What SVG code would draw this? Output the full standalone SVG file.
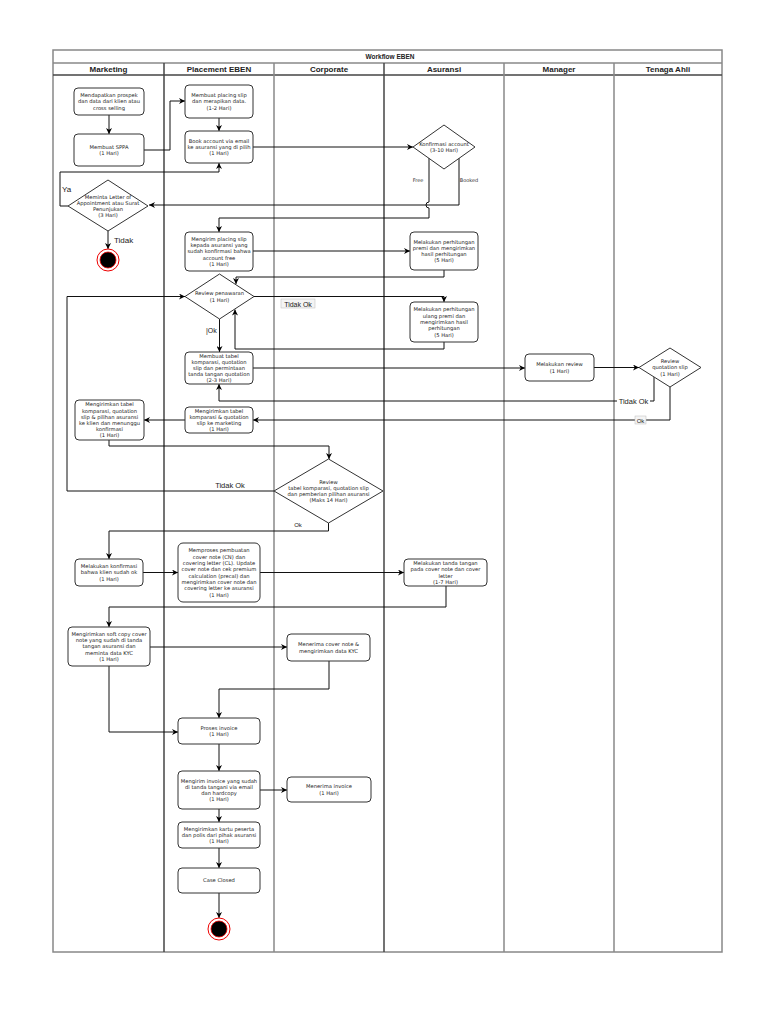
<svg xmlns="http://www.w3.org/2000/svg" width="768" height="1024" viewBox="0 0 768 1024">
<defs>
<marker id="ar" viewBox="0 0 10 10" refX="10" refY="5" markerWidth="6" markerHeight="6" markerUnits="userSpaceOnUse" orient="auto">
<path d="M0,0 L10,5 L0,10 L3,5 z" fill="#000"/>
</marker>
<style>
.node rect{fill:#fff;stroke:#333;stroke-width:1}
.node polygon{fill:#fff;stroke:#333;stroke-width:1}
.t{font-family:"DejaVu Sans",Verdana,sans-serif;font-size:5.2px;fill:#222;text-anchor:middle}
.hd{font-family:"Liberation Sans",Arial,sans-serif;font-size:8px;font-weight:bold;fill:#222;text-anchor:middle}
.lbl{font-family:"Liberation Sans",Arial,sans-serif;font-size:8px;fill:#222}
.sl{font-family:"DejaVu Sans",sans-serif;font-size:5px;fill:#333;text-anchor:middle}
.conn path{fill:none;stroke:#111;stroke-width:1;marker-end:url(#ar)}
.conn path.nm{marker-end:none}
.lane{stroke:#888;stroke-width:1.5}
.laned{stroke:#444;stroke-width:1.5}
</style>
</defs>
<rect x="0" y="0" width="768" height="1024" fill="#fff"/>
<g id="pool">
<rect x="53" y="50" width="669" height="902" fill="none" stroke="#888" stroke-width="1.5"/>
<line x1="53" y1="63" x2="722" y2="63" class="lane"/>
<line x1="53" y1="75" x2="722" y2="75" class="laned"/>
<text x="390" y="58.5" class="hd" style="font-size:6.5px">Workflow EBEN</text>
<line x1="164" y1="63" x2="164" y2="952" class="laned"/>
<line x1="274" y1="63" x2="274" y2="952" class="lane"/>
<line x1="384" y1="63" x2="384" y2="952" class="laned"/>
<line x1="504" y1="63" x2="504" y2="952" class="lane"/>
<line x1="614" y1="63" x2="614" y2="952" class="lane"/>
<text x="108.5" y="72" class="hd">Marketing</text>
<text x="219" y="72" class="hd">Placement EBEN</text>
<text x="329" y="72" class="hd">Corporate</text>
<text x="444" y="72" class="hd">Asuransi</text>
<text x="559" y="72" class="hd">Manager</text>
<text x="668" y="72" class="hd">Tenaga Ahli</text>
</g>
<g class="conn" id="connectors">
<path d="M109,115 V134"/>
<path d="M144,150 H170 V101 H185"/>
<path d="M219,118 V131"/>
<path d="M68,206 H60 V172 H219 V163"/>
<path d="M253,147 H413"/>
<path d="M459,158 V205 H149"/>
<path d="M429,158 V202 A3,3 0 0 0 429,208 V218 H219 V232"/>
<path d="M253,251 H410"/>
<path d="M444,270 V277 H236 V284"/>
<path d="M254,296.5 H444 V302"/>
<path d="M444,342 V349 H235 V309.5"/>
<path d="M219.5,319 V352"/>
<path d="M253,368 H525"/>
<path d="M594,367.5 H639"/>
<path d="M654,377 V401 H219 V384"/>
<path d="M670,387 V420 H253"/>
<path d="M185,420 H144"/>
<path d="M109,440 V446 H329 V459"/>
<path d="M274,491 H67 V296.5 H185"/>
<path d="M328.5,523 V531 H109 V559"/>
<path d="M143,572.5 H178"/>
<path d="M260,572.5 H404"/>
<path d="M446,586 V607 H109 V627"/>
<path d="M150,647 H287"/>
<path d="M329,661 V689 H219 V718"/>
<path d="M109,666 V732 H178"/>
<path d="M219,744 V771"/>
<path d="M260,790 H287"/>
<path d="M219,809 V822"/>
<path d="M219,848 V868"/>
<path d="M219,893 V918"/>
<path d="M108,231 V249"/>
</g>
<g id="labels">
<text x="62" y="192" class="lbl">Ya</text>
<text x="114" y="243" class="lbl">Tidak</text>
<text x="418" y="181.5" class="sl">Free</text>
<text x="469" y="181.5" class="sl">Booked</text>
<rect x="281" y="299" width="34" height="9" fill="#f4f4f4" stroke="#bbb" stroke-width="0.5"/>
<text x="298" y="306.5" class="lbl" style="font-size:7px;text-anchor:middle">Tidak  Ok</text>
<rect x="205" y="326" width="13" height="8" fill="#fff"/>
<text x="206" y="333" class="lbl" style="font-size:7px">|Ok</text>
<rect x="617" y="397" width="33" height="8" fill="#fff"/>
<text x="633.5" y="404" class="lbl" style="font-size:7.5px;text-anchor:middle">Tidak Ok</text>
<rect x="635" y="416" width="11" height="8" fill="#f4f4f4" stroke="#bbb" stroke-width="0.5"/>
<text x="640.5" y="422.5" class="lbl" style="font-size:6px;text-anchor:middle">Ok</text>
<text x="230" y="488" class="lbl" style="font-size:7.5px;text-anchor:middle">Tidak Ok</text>
<text x="298" y="527" class="lbl" style="font-size:6px;text-anchor:middle">Ok</text>
</g>
<g id="n1" class="node"><rect x="74" y="88" width="70" height="27" rx="4"/><text class="t"><tspan x="109" y="97.1">Mendapatkan prospek</tspan><tspan x="109" y="103.4">dan data dari klien atau</tspan><tspan x="109" y="109.7">cross selling</tspan></text></g>
<g id="n2" class="node"><rect x="74" y="134" width="70" height="32" rx="4"/><text class="t"><tspan x="109" y="148.8">Membuat SPPA</tspan><tspan x="109" y="155">(1 Hari)</tspan></text></g>
<g id="n3" class="node"><polygon points="68,206 108,180 148,206 108,231"/><text class="t"><tspan x="108" y="198.5">Meminta Letter of</tspan><tspan x="108" y="204.8">Appointment atau Surat</tspan><tspan x="108" y="211.1">Penunjukan</tspan><tspan x="108" y="217.4">(3 Hari)</tspan></text></g>
<g id="end1"><circle cx="108" cy="260" r="11" fill="#fff" stroke="#e00" stroke-width="1"/><circle cx="108" cy="260" r="8" fill="#000" stroke="#e00" stroke-width="0.8"/></g>
<g id="n5" class="node"><rect x="185" y="85" width="68" height="33" rx="4"/><text class="t"><tspan x="219" y="97.1">Membuat placing slip</tspan><tspan x="219" y="103.4">dan merapikan data.</tspan><tspan x="219" y="109.7">(1-2 Hari)</tspan></text></g>
<g id="n6" class="node"><rect x="185" y="131" width="68" height="32" rx="4"/><text class="t"><tspan x="219" y="142.6">Book account via email</tspan><tspan x="219" y="148.9">ke asuransi yang di pilih</tspan><tspan x="219" y="155.2">(1 Hari)</tspan></text></g>
<g id="n7" class="node"><polygon points="413,147 444,125 475,147 444,169"/><text class="t"><tspan x="444" y="145.8">Konfirmasi account</tspan><tspan x="444" y="152.1">(3-10 Hari)</tspan></text></g>
<g id="n8" class="node"><rect x="185" y="232" width="68" height="39" rx="4"/><text class="t"><tspan x="219" y="240.8">Mengirim placing slip</tspan><tspan x="219" y="247.1">kepada asuransi yang</tspan><tspan x="219" y="253.4">sudah konfirmasi bahwa</tspan><tspan x="219" y="259.7">account free</tspan><tspan x="219" y="266">(1 Hari)</tspan></text></g>
<g id="n9" class="node"><rect x="410" y="232" width="68" height="38" rx="4"/><text class="t"><tspan x="444" y="243.5">Melakukan perhitungan</tspan><tspan x="444" y="249.8">premi dan mengirimkan</tspan><tspan x="444" y="256.1">hasil perhitungan</tspan><tspan x="444" y="262.4">(5 Hari)</tspan></text></g>
<g id="n10" class="node"><polygon points="185,296.5 219.5,274 254,296.5 219.5,319"/><text class="t"><tspan x="219.5" y="295.3">Review penawaran</tspan><tspan x="219.5" y="301.6">(1 Hari)</tspan></text></g>
<g id="n11" class="node"><rect x="410" y="302" width="68" height="40" rx="4"/><text class="t"><tspan x="444" y="311.3">Melakukan perhitungan</tspan><tspan x="444" y="317.6">ulang premi dan</tspan><tspan x="444" y="323.9">mengirimkan hasil</tspan><tspan x="444" y="330.2">perhitungan</tspan><tspan x="444" y="336.5">(5 Hari)</tspan></text></g>
<g id="n12" class="node"><rect x="185" y="352" width="68" height="32" rx="4"/><text class="t"><tspan x="219" y="357.9">Membuat tabel</tspan><tspan x="219" y="363.9">komparasi, quotation</tspan><tspan x="219" y="369.9">slip dan permintaan</tspan><tspan x="219" y="375.9">tanda tangan quotation</tspan><tspan x="219" y="381.9">(2-3 Hari)</tspan></text></g>
<g id="n13" class="node"><rect x="525" y="354" width="69" height="27" rx="4"/><text class="t"><tspan x="559.5" y="366.3">Melakukan review</tspan><tspan x="559.5" y="372.6">(1 Hari)</tspan></text></g>
<g id="n14" class="node"><polygon points="639,367.5 670,348 701,367.5 670,387"/><text class="t"><tspan x="670" y="363.1">Review</tspan><tspan x="670" y="369.4">quotation slip</tspan><tspan x="670" y="375.7">(1 Hari)</tspan></text></g>
<g id="n15" class="node"><rect x="185" y="407" width="68" height="26" rx="4"/><text class="t"><tspan x="219" y="412.5">Mengirimkan tabel</tspan><tspan x="219" y="418.8">komparasi &amp; quotation</tspan><tspan x="219" y="425.1">slip ke marketing</tspan><tspan x="219" y="431.4">(1 Hari)</tspan></text></g>
<g id="n16" class="node"><rect x="75" y="400" width="69" height="40" rx="4"/><text class="t"><tspan x="109.5" y="406.4">Mengirimkan tabel</tspan><tspan x="109.5" y="412.6">komparasi, quotation</tspan><tspan x="109.5" y="418.8">slip &amp; pilihan asuransi</tspan><tspan x="109.5" y="425">ke klien dan menunggu</tspan><tspan x="109.5" y="431.2">konfirmasi</tspan><tspan x="109.5" y="437.4">(1 Hari)</tspan></text></g>
<g id="n17" class="node"><polygon points="274,491 328.5,459 383,491 328.5,523"/><text class="t"><tspan x="328.5" y="483.5">Review</tspan><tspan x="328.5" y="489.8">tabel komparasi, quotation slip</tspan><tspan x="328.5" y="496.1">dan pemberian pilihan asuransi</tspan><tspan x="328.5" y="502.4">(Maks 14 Hari)</tspan></text></g>
<g id="n18" class="node"><rect x="75" y="559" width="68" height="27" rx="4"/><text class="t"><tspan x="109" y="568.1">Melakukan konfirmasi</tspan><tspan x="109" y="574.4">bahwa klien sudah ok</tspan><tspan x="109" y="580.7">(1 Hari)</tspan></text></g>
<g id="n19" class="node"><rect x="178" y="543" width="82" height="59" rx="5"/><text class="t"><tspan x="219" y="552.4">Memproses pembuatan</tspan><tspan x="219" y="558.7">cover note (CN) dan</tspan><tspan x="219" y="565">covering letter (CL). Update</tspan><tspan x="219" y="571.3">cover note dan cek premium</tspan><tspan x="219" y="577.6">calculation (precal) dan</tspan><tspan x="219" y="583.9">mengirimkan cover note dan</tspan><tspan x="219" y="590.2">covering letter ke asuransi</tspan><tspan x="219" y="596.5">(1 Hari)</tspan></text></g>
<g id="n20" class="node"><rect x="404" y="559" width="83" height="27" rx="4"/><text class="t"><tspan x="445.5" y="565">Melakukan tanda tangan</tspan><tspan x="445.5" y="571.3">pada cover note dan cover</tspan><tspan x="445.5" y="577.6">letter</tspan><tspan x="445.5" y="583.9">(1-7 Hari)</tspan></text></g>
<g id="n21" class="node"><rect x="68" y="627" width="82" height="39" rx="4"/><text class="t"><tspan x="109" y="635.8">Mengirimkan soft copy cover</tspan><tspan x="109" y="642.1">note yang sudah di tanda</tspan><tspan x="109" y="648.4">tangan asuransi dan</tspan><tspan x="109" y="654.7">meminta data KYC</tspan><tspan x="109" y="661">(1 Hari)</tspan></text></g>
<g id="n22" class="node"><rect x="287" y="634" width="83" height="27" rx="4"/><text class="t"><tspan x="328.5" y="646.3">Menerima cover note &amp;</tspan><tspan x="328.5" y="652.6">mengirimkan data KYC</tspan></text></g>
<g id="n23" class="node"><rect x="178" y="718" width="82" height="26" rx="4"/><text class="t"><tspan x="219" y="729.8">Proses invoice</tspan><tspan x="219" y="736.1">(1 Hari)</tspan></text></g>
<g id="n24" class="node"><rect x="178" y="771" width="82" height="38" rx="4"/><text class="t"><tspan x="219" y="782.5">Mengirim invoice yang sudah</tspan><tspan x="219" y="788.8">di tanda tangani via email</tspan><tspan x="219" y="795.1">dan hardcopy</tspan><tspan x="219" y="801.4">(1 Hari)</tspan></text></g>
<g id="n25" class="node"><rect x="287" y="777" width="84" height="25" rx="4"/><text class="t"><tspan x="329" y="788.3">Menerima invoice</tspan><tspan x="329" y="794.6">(1 Hari)</tspan></text></g>
<g id="n26" class="node"><rect x="178" y="822" width="82" height="26" rx="4"/><text class="t"><tspan x="219" y="830.6">Mengirimkan kartu peserta</tspan><tspan x="219" y="836.9">dan polis dari pihak asuransi</tspan><tspan x="219" y="843.2">(1 Hari)</tspan></text></g>
<g id="n27" class="node"><rect x="178" y="868" width="82" height="25" rx="4"/><text class="t"><tspan x="219" y="882.4">Case Closed</tspan></text></g>
<g id="end2"><circle cx="219" cy="929" r="11" fill="#fff" stroke="#e00" stroke-width="1"/><circle cx="219" cy="929" r="8" fill="#000" stroke="#e00" stroke-width="0.8"/></g>
</svg>
